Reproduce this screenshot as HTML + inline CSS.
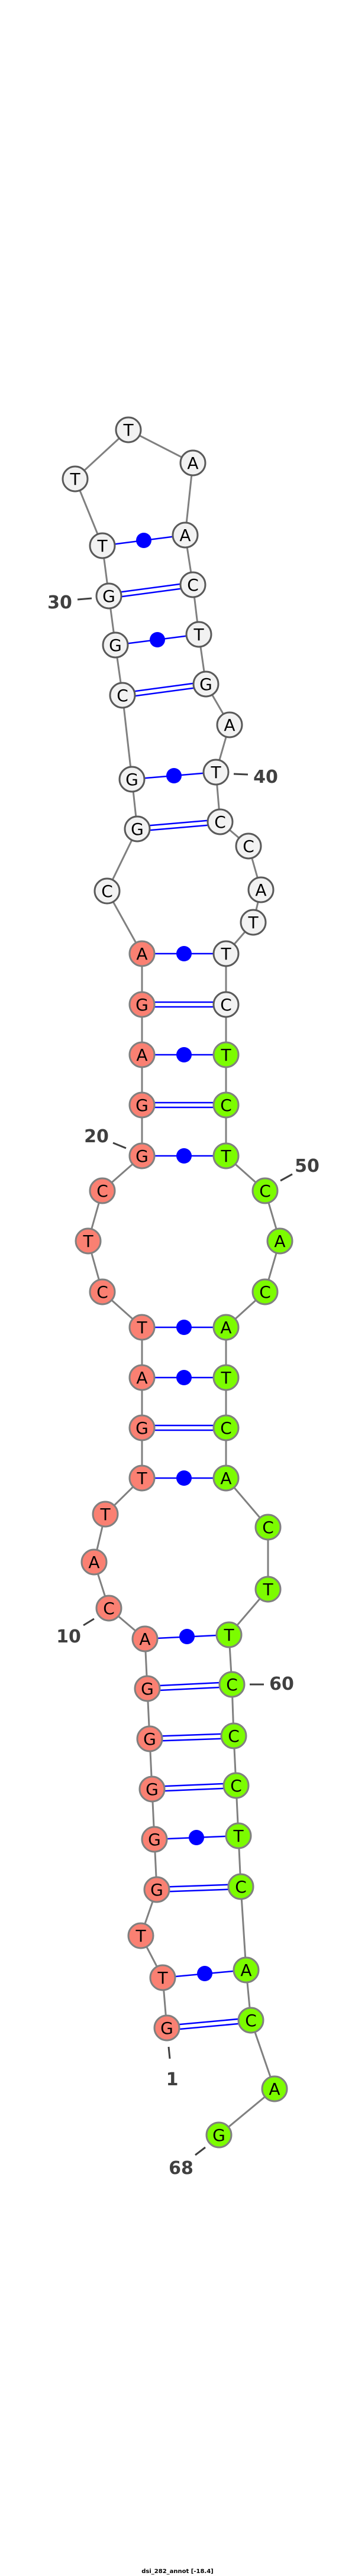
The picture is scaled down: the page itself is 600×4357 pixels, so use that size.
<!DOCTYPE html>
<html><head><meta charset="utf-8"><style>
html,body{margin:0;padding:0;background:#fff}
svg{display:block}
.n text{font-family:"DejaVu Sans","Liberation Sans",sans-serif;font-size:28px;text-anchor:middle;fill:#000}
.lb{font-family:"DejaVu Sans","Liberation Sans",sans-serif;font-size:30px;font-weight:bold;fill:#404040;text-anchor:middle}
</style></head><body>
<svg width="600" height="4357" viewBox="0 0 600 4357" xmlns="http://www.w3.org/2000/svg">
<polyline fill="none" stroke="#808080" stroke-width="3" points="282,3430 275,3345 238,3274 265,3196 261,3111 257,3026 253,2941 249,2856 245,2772 184,2720 159,2642 178,2561 240,2500 240,2415 240,2330 240,2245 173,2185 149,2099 173,2014 240,1955 240,1869 240,1784 240,1699 240,1613 181,1507 232,1402 223,1318 207,1176 195,1091 184,1008 173,923 127,810 217,727 326,783 313,905 326,989 336,1073 348,1157 388,1226 365,1306 372,1390 420,1431 441,1505 428,1560 382,1613 382,1699 382,1784 382,1869 382,1955 448,2014 473,2099 448,2185 382,2245 382,2330 382,2415 382,2500 453,2583 453,2688 387,2765 392,2849 395,2936 399,3020 403,3105 407,3191 416,3332 424,3417 464,3533 370,3611"/>
<g stroke="#0000ff" stroke-width="2.5" fill="none">
<!-- single lines -->
<line x1="275" y1="3345" x2="416" y2="3332"/>
<line x1="261" y1="3111" x2="403" y2="3105"/>
<line x1="245" y1="2772" x2="387" y2="2765"/>
<line x1="240" y1="2500" x2="382" y2="2500"/>
<line x1="240" y1="2330" x2="382" y2="2330"/>
<line x1="240" y1="2245" x2="382" y2="2245"/>
<line x1="240" y1="1955" x2="382" y2="1955"/>
<line x1="240" y1="1784" x2="382" y2="1784"/>
<line x1="240" y1="1613" x2="382" y2="1613"/>
<line x1="223" y1="1318" x2="365" y2="1306"/>
<line x1="195" y1="1091" x2="336" y2="1073"/>
<line x1="173" y1="923" x2="313" y2="905"/>
<!-- double lines -->
<line x1="282" y1="3426" x2="424" y2="3413"/><line x1="282" y1="3434" x2="424" y2="3421"/>
<line x1="265" y1="3192" x2="407" y2="3187"/><line x1="265" y1="3200" x2="407" y2="3195"/>
<line x1="257" y1="3022" x2="399" y2="3016"/><line x1="257" y1="3030" x2="399" y2="3024"/>
<line x1="253" y1="2937" x2="395" y2="2932"/><line x1="253" y1="2945" x2="395" y2="2940"/>
<line x1="249" y1="2852" x2="392" y2="2845"/><line x1="249" y1="2860" x2="392" y2="2853"/>
<line x1="240" y1="2411" x2="382" y2="2411"/><line x1="240" y1="2419" x2="382" y2="2419"/>
<line x1="240" y1="1865" x2="382" y2="1865"/><line x1="240" y1="1873" x2="382" y2="1873"/>
<line x1="240" y1="1695" x2="382" y2="1695"/><line x1="240" y1="1703" x2="382" y2="1703"/>
<line x1="232" y1="1398" x2="372" y2="1386"/><line x1="232" y1="1406" x2="372" y2="1394"/>
<line x1="207" y1="1172" x2="348" y2="1153"/><line x1="207" y1="1180" x2="348" y2="1161"/>
<line x1="184" y1="1004" x2="326" y2="985"/><line x1="184" y1="1012" x2="326" y2="993"/>
</g>
<g fill="#0000ff">
<circle cx="346" cy="3338" r="13"/>
<circle cx="332" cy="3108" r="13"/>
<circle cx="316" cy="2768" r="13"/>
<circle cx="311" cy="2500" r="13"/>
<circle cx="311" cy="2330" r="13"/>
<circle cx="311" cy="2245" r="13"/>
<circle cx="311" cy="1955" r="13"/>
<circle cx="311" cy="1784" r="13"/>
<circle cx="311" cy="1613" r="13"/>
<circle cx="294" cy="1312" r="13"/>
<circle cx="266" cy="1082" r="13"/>
<circle cx="243" cy="914" r="13"/>
</g>
<g class="n" stroke-width="3">
<g fill="#fa8072" stroke="#808080">
<circle cx="282" cy="3430" r="21"/><circle cx="275" cy="3345" r="21"/><circle cx="238" cy="3274" r="21"/><circle cx="265" cy="3196" r="21"/><circle cx="261" cy="3111" r="21"/><circle cx="257" cy="3026" r="21"/><circle cx="253" cy="2941" r="21"/><circle cx="249" cy="2856" r="21"/><circle cx="245" cy="2772" r="21"/><circle cx="184" cy="2720" r="21"/><circle cx="159" cy="2642" r="21"/><circle cx="178" cy="2561" r="21"/><circle cx="240" cy="2500" r="21"/><circle cx="240" cy="2415" r="21"/><circle cx="240" cy="2330" r="21"/><circle cx="240" cy="2245" r="21"/><circle cx="173" cy="2185" r="21"/><circle cx="149" cy="2099" r="21"/><circle cx="173" cy="2014" r="21"/><circle cx="240" cy="1955" r="21"/><circle cx="240" cy="1869" r="21"/><circle cx="240" cy="1784" r="21"/><circle cx="240" cy="1699" r="21"/><circle cx="240" cy="1613" r="21"/>
</g>
<g fill="#f2f2f2" stroke="#5a5a5a">
<circle cx="181" cy="1507" r="21"/><circle cx="232" cy="1402" r="21"/><circle cx="223" cy="1318" r="21"/><circle cx="207" cy="1176" r="21"/><circle cx="195" cy="1091" r="21"/><circle cx="184" cy="1008" r="21"/><circle cx="173" cy="923" r="21"/><circle cx="127" cy="810" r="21"/><circle cx="217" cy="727" r="21"/><circle cx="326" cy="783" r="21"/><circle cx="313" cy="905" r="21"/><circle cx="326" cy="989" r="21"/><circle cx="336" cy="1073" r="21"/><circle cx="348" cy="1157" r="21"/><circle cx="388" cy="1226" r="21"/><circle cx="365" cy="1306" r="21"/><circle cx="372" cy="1390" r="21"/><circle cx="420" cy="1431" r="21"/><circle cx="441" cy="1505" r="21"/><circle cx="428" cy="1560" r="21"/><circle cx="382" cy="1613" r="21"/><circle cx="382" cy="1699" r="21"/>
</g>
<g fill="#7cfc00" stroke="#808080">
<circle cx="382" cy="1784" r="21"/><circle cx="382" cy="1869" r="21"/><circle cx="382" cy="1955" r="21"/><circle cx="448" cy="2014" r="21"/><circle cx="473" cy="2099" r="21"/><circle cx="448" cy="2185" r="21"/><circle cx="382" cy="2245" r="21"/><circle cx="382" cy="2330" r="21"/><circle cx="382" cy="2415" r="21"/><circle cx="382" cy="2500" r="21"/><circle cx="453" cy="2583" r="21"/><circle cx="453" cy="2688" r="21"/><circle cx="387" cy="2765" r="21"/><circle cx="392" cy="2849" r="21"/><circle cx="395" cy="2936" r="21"/><circle cx="399" cy="3020" r="21"/><circle cx="403" cy="3105" r="21"/><circle cx="407" cy="3191" r="21"/><circle cx="416" cy="3332" r="21"/><circle cx="424" cy="3417" r="21"/><circle cx="464" cy="3533" r="21"/><circle cx="370" cy="3611" r="21"/>
</g>
<text x="282" y="3440">G</text><text x="275" y="3355">T</text><text x="238" y="3284">T</text><text x="265" y="3206">G</text><text x="261" y="3121">G</text><text x="257" y="3036">G</text><text x="253" y="2951">G</text><text x="249" y="2866">G</text><text x="245" y="2782">A</text><text x="184" y="2730">C</text><text x="159" y="2652">A</text><text x="178" y="2571">T</text><text x="240" y="2510">T</text><text x="240" y="2425">G</text><text x="240" y="2340">A</text><text x="240" y="2255">T</text><text x="173" y="2195">C</text><text x="149" y="2109">T</text><text x="173" y="2024">C</text><text x="240" y="1965">G</text><text x="240" y="1879">G</text><text x="240" y="1794">A</text><text x="240" y="1709">G</text><text x="240" y="1623">A</text>
<text x="181" y="1517">C</text><text x="232" y="1412">G</text><text x="223" y="1328">G</text><text x="207" y="1186">C</text><text x="195" y="1101">G</text><text x="184" y="1018">G</text><text x="173" y="933">T</text><text x="127" y="820">T</text><text x="217" y="737">T</text><text x="326" y="793">A</text><text x="313" y="915">A</text><text x="326" y="999">C</text><text x="336" y="1083">T</text><text x="348" y="1167">G</text><text x="388" y="1236">A</text><text x="365" y="1316">T</text><text x="372" y="1400">C</text><text x="420" y="1441">C</text><text x="441" y="1515">A</text><text x="428" y="1570">T</text><text x="382" y="1623">T</text><text x="382" y="1709">C</text>
<text x="382" y="1794">T</text><text x="382" y="1879">C</text><text x="382" y="1965">T</text><text x="448" y="2024">C</text><text x="473" y="2109">A</text><text x="448" y="2195">C</text><text x="382" y="2255">A</text><text x="382" y="2340">T</text><text x="382" y="2425">C</text><text x="382" y="2510">A</text><text x="453" y="2593">C</text><text x="453" y="2698">T</text><text x="387" y="2775">T</text><text x="392" y="2859">C</text><text x="395" y="2946">C</text><text x="399" y="3030">C</text><text x="403" y="3115">T</text><text x="407" y="3201">C</text><text x="416" y="3342">A</text><text x="424" y="3427">C</text><text x="464" y="3543">A</text><text x="370" y="3621">G</text>
</g>
<g stroke="#404040" stroke-width="3">
<line x1="131" y1="1014" x2="155" y2="1012"/>
<line x1="395" y1="1309" x2="419" y2="1310"/>
<line x1="191" y1="1933" x2="213" y2="1942"/>
<line x1="474" y1="1997" x2="494" y2="1986"/>
<line x1="141" y1="2749" x2="159" y2="2738"/>
<line x1="422" y1="2849" x2="446" y2="2849"/>
<line x1="285" y1="3462" x2="287" y2="3482"/>
<line x1="330" y1="3645" x2="347" y2="3632"/>
</g>
<text class="lb" x="101" y="1029">30</text>
<text class="lb" x="449" y="1324">40</text>
<text class="lb" x="163" y="1932">20</text>
<text class="lb" x="519" y="1982">50</text>
<text class="lb" x="116" y="2778">10</text>
<text class="lb" x="476" y="2858">60</text>
<text class="lb" x="291" y="3527">1</text>
<text class="lb" x="306" y="3677">68</text>
<text x="300" y="4352" font-family="DejaVu Sans, Liberation Sans, sans-serif" font-size="10" font-weight="bold" text-anchor="middle" fill="#000">dsi_282_annot [-18.4]</text>
</svg>
</body></html>
